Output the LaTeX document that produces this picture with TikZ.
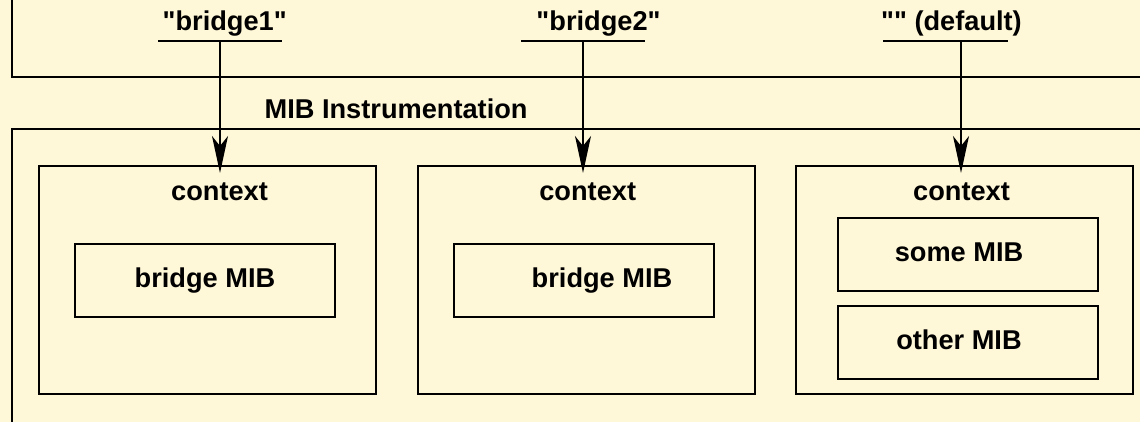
\documentclass[tikz,border=0pt]{standalone}
\usepackage{fontspec}
\setmainfont{Liberation Sans}
\usetikzlibrary{arrows.meta,calc}
\definecolor{paper}{RGB}{255,248,216}
\newcommand{\dq}{\textquotedbl}

\begin{document}
\begin{tikzpicture}[x=0.5pt,y=-0.5pt,line width=1pt,
  font=\fontsize{13.6}{16}\selectfont\bfseries,
  box/.style={draw,anchor=north west,inner sep=0pt},
  ctxbox/.style={box,minimum width=168.5pt,minimum height=114pt},
  mibbox/.style={box,minimum width=130pt,minimum height=36.5pt,text height=0.72em,text depth=0pt},
  tip/.style={-{Stealth[length=18.5pt,width=8pt,inset=5pt]}}]
\useasboundingbox[fill=paper] (0,0) rectangle (1140,422);

% name space and instrumentation
\draw (1150,-10) -| (12,77) -- (1150,77);
\draw (1150,129) -| (12,432);
\node[anchor=base west] (instr) at (257,119) {MIB Instrumentation};

% contexts
\node[ctxbox] (ctx1) at (38,165) {};
\node[ctxbox] (ctx2) at (417,165) {};
\node[ctxbox] (ctx3) at (795,165) {};
\node[anchor=base] (lab1) at (219.5,201) {context};
\node[anchor=base] (lab2) at (587.7,201) {context};
\node[anchor=base] (lab3) at (961.5,201) {context};

\node[mibbox] (mib1) at (74,243) {bridge MIB};
\node[mibbox] (mib2) at (453,243) {\hspace*{18pt}bridge MIB};
\node[mibbox] (some) at (837,217) {some MIB\hspace*{9pt}};
\node[mibbox] (other) at (837,305) {other MIB\hspace*{9pt}};

% context names
\node[anchor=base] (name1) at (224.7,31) {\dq bridge1\dq};
\node[anchor=base] (name2) at (598.5,31) {\dq bridge2\dq};
\node[anchor=base] (name3) at (951.5,31) {\dq\dq\ (default)};
\draw (158,41) coordinate (ul1) -- (282,41) coordinate (ur1);
\draw (521,41) coordinate (ul2) -- (645,41) coordinate (ur2);
\draw (883,41) coordinate (ul3) -- (1008,41) coordinate (ur3);
\coordinate (a1) at (220,41);
\coordinate (a2) at (583,41);
\coordinate (a3) at (961,41);
\coordinate (t1) at ($(a1 |- ctx1.north)+(0,8)$);
\coordinate (t2) at ($(a2 |- ctx2.north)+(0,8)$);
\coordinate (t3) at ($(a3 |- ctx3.north)+(0,8)$);
\draw[tip] (a1) -- (t1);
\draw[tip] (a2) -- (t2);
\draw[tip] (a3) -- (t3);

\end{tikzpicture}
\end{document}
